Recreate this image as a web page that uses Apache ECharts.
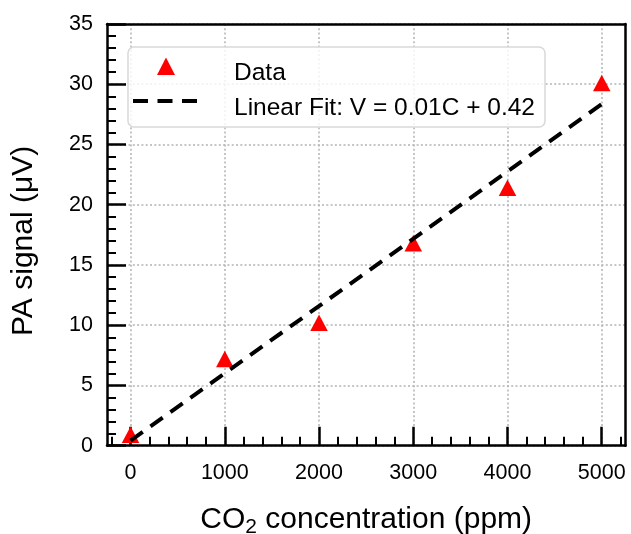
<!DOCTYPE html>
<html>
<head>
<meta charset="utf-8">
<script src="https://cdn.jsdelivr.net/npm/echarts@6/dist/echarts.min.js"></script>
<style>
  html, body { margin: 0; padding: 0; background: #fff; }
  #chart { width: 631px; height: 534px; }
</style>
</head>
<body>
<div id="chart"></div>
<script>
// CO2 calibration: photoacoustic signal versus gas concentration
const concentration = [0, 1000, 2000, 3000, 4000, 5000];   // ppm
const paSignal = [0.9, 7.2, 10.2, 16.8, 21.4, 30.1];       // µV

// least-squares line, evaluated at both ends of the measured range
const fitConcentration = [0, 5000];
const fitSignal = [0.42, 28.35];

// axis ticks
const xTicks = [0, 1000, 2000, 3000, 4000, 5000];
const xMinorTicks = [-200, 200, 400, 600, 800, 1200, 1400, 1600, 1800,
  2200, 2400, 2600, 2800, 3200, 3400, 3600, 3800, 4200, 4400, 4600, 4800, 5200];
const yTickStep = 5;

const legendLabels = ['Data', 'Linear Fit: V = 0.01C + 0.42'];
const yTitle = 'PA signal (μV)';

const FONT = '"Liberation Sans", Arial, Helvetica, sans-serif';
const X_RANGE = [-250, 5250];
const Y_RANGE = [0, 35];

const frameLine = { show: true, onZero: false, lineStyle: { color: '#000', width: 2.5 } };
const majorTickStyle = { color: '#000', width: 2.5 };
const minorTickStyle = { color: '#000', width: 2 };
const gridStyle = { color: '#b3b3b3', width: 1.5, type: [2, 2.3] };
const tickFont = { color: '#000', fontFamily: FONT, fontSize: 21.5 };
const hidden = { show: false };

const chart = echarts.init(document.getElementById('chart'), null, { renderer: 'canvas' });

chart.setOption({
  animation: false,
  backgroundColor: '#fff',
  grid: {
    left: 107, right: 5.7, top: 24, bottom: 88.3,
    containLabel: false,
    outerBoundsMode: 'none'
  },
  xAxis: [
    {
      // data axis: frame line, major ticks, labels, title
      type: 'value', min: X_RANGE[0], max: X_RANGE[1], position: 'bottom', z: 1,
      axisLine: frameLine,
      axisTick: { show: true, inside: true, length: 19, lineStyle: majorTickStyle, customValues: xTicks },
      axisLabel: Object.assign({ margin: 16, customValues: xTicks, formatter: v => String(v) }, tickFont),
      splitLine: hidden,
      name: '{t|CO}{s|2}{t| concentration (ppm)}',
      nameLocation: 'middle',
      nameGap: 57,
      nameTextStyle: {
        rich: {
          t: { fontFamily: FONT, fontSize: 30, color: '#000', lineHeight: 35, verticalAlign: 'middle' },
          s: { fontFamily: FONT, fontSize: 21, color: '#000', lineHeight: 20, verticalAlign: 'bottom' }
        }
      }
    },
    {
      // top edge of the frame
      type: 'value', min: X_RANGE[0], max: X_RANGE[1], position: 'top', z: 1,
      axisLine: frameLine, axisTick: hidden, axisLabel: hidden, splitLine: hidden
    },
    {
      // minor ticks
      type: 'value', min: X_RANGE[0], max: X_RANGE[1], position: 'bottom', z: 1,
      axisLine: hidden,
      axisTick: { show: true, inside: true, length: 9, lineStyle: minorTickStyle, customValues: xMinorTicks },
      axisLabel: hidden, splitLine: hidden
    },
    {
      // dotted vertical grid, kept underneath the ticks
      type: 'value', min: X_RANGE[0], max: X_RANGE[1], position: 'bottom', z: 0,
      axisLine: hidden,
      axisTick: { show: false, customValues: xTicks },
      axisLabel: hidden,
      splitLine: { show: true, lineStyle: gridStyle }
    }
  ],
  yAxis: [
    {
      type: 'value', min: Y_RANGE[0], max: Y_RANGE[1], interval: yTickStep, position: 'left', z: 1,
      axisLine: frameLine,
      axisTick: { show: true, inside: true, length: 19, lineStyle: majorTickStyle },
      minorTick: { show: true, splitNumber: 5, length: 9, lineStyle: minorTickStyle },
      axisLabel: Object.assign({ margin: 14 }, tickFont),
      splitLine: hidden,
      name: yTitle,
      nameLocation: 'middle',
      nameGap: 68,
      nameRotate: 90,
      nameTextStyle: { fontFamily: FONT, fontSize: 30, color: '#000', padding: [0, 12, 0, 0] }
    },
    {
      // right edge of the frame
      type: 'value', min: Y_RANGE[0], max: Y_RANGE[1], position: 'right', z: 1,
      axisLine: frameLine, axisTick: hidden, axisLabel: hidden, splitLine: hidden
    },
    {
      // dotted horizontal grid
      type: 'value', min: Y_RANGE[0], max: Y_RANGE[1], interval: yTickStep, position: 'left', z: 0,
      axisLine: hidden, axisTick: hidden, axisLabel: hidden,
      splitLine: { show: true, lineStyle: gridStyle }
    }
  ],
  series: [
    {
      type: 'scatter',
      name: legendLabels[0],
      xAxisIndex: 0, yAxisIndex: 0,
      data: concentration.map((c, i) => [c, paSignal[i]]),
      symbol: 'triangle',
      symbolSize: [17.5, 16.5],
      itemStyle: { color: '#ff0000', opacity: 1 },
      z: 3
    },
    {
      type: 'line',
      name: legendLabels[1],
      xAxisIndex: 0, yAxisIndex: 0,
      data: fitConcentration.map((c, i) => [c, fitSignal[i]]),
      symbol: 'none',
      lineStyle: { color: '#000', width: 4, type: [15, 9.5], cap: 'butt' },
      z: 4
    }
  ],
  // legend box in the upper-left of the plot
  graphic: [
    {
      type: 'rect', z: 100,
      shape: { x: 128, y: 47, width: 417, height: 80, r: 6 },
      style: { fill: 'rgba(255,255,255,0.8)', stroke: '#d9d9d9', lineWidth: 1.5 }
    },
    {
      type: 'polygon', z: 101,
      shape: { points: [[166, 57.5], [157, 75], [175, 75]] },
      style: { fill: '#ff0000' }
    },
    {
      type: 'line', z: 101,
      shape: { x1: 133, y1: 101, x2: 199, y2: 101 },
      style: { stroke: '#000', lineWidth: 4, lineDash: [15, 9.5] }
    },
    {
      type: 'text', z: 101, x: 234, y: 73,
      style: { text: legendLabels[0], fontFamily: FONT, fontSize: 24.5, fill: '#000', verticalAlign: 'middle' }
    },
    {
      type: 'text', z: 101, x: 234, y: 108.5,
      style: { text: legendLabels[1], fontFamily: FONT, fontSize: 24.5, fill: '#000', verticalAlign: 'middle' }
    }
  ]
});
</script>
</body>
</html>
